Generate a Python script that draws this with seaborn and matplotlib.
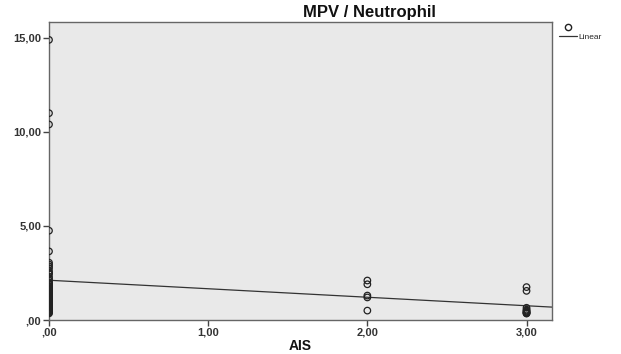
import numpy as np
import pandas as pd
import matplotlib
matplotlib.use('Agg')
import matplotlib.pyplot as plt
import seaborn as sns
from matplotlib.lines import Line2D
from matplotlib.ticker import FuncFormatter

# AIS groups and MPV / Neutrophil values
ais_0_values = [14.9, 11.0, 10.4, 4.75, 3.65,
                3.05, 2.95, 2.85, 2.75, 2.6, 2.5, 2.45, 2.3, 2.2, 2.1,
                2.0, 1.95, 1.9, 1.8, 1.8, 1.75, 1.7, 1.6, 1.6, 1.55,
                1.5, 1.45, 1.4, 1.35, 1.3, 1.25, 1.2, 1.2, 1.1, 1.05,
                1.0, 1.0, 0.9, 0.9, 0.85, 0.8, 0.8, 0.75, 0.7, 0.65,
                0.6, 0.55, 0.5, 0.45, 0.4, 0.35, 1.1, 0.7, 1.15, 0.95]
ais_2_values = [2.1, 1.9, 1.3, 1.2, 0.5]
ais_3_values = [1.75, 1.55, 0.65, 0.55, 0.5, 0.45, 0.4, 0.4, 0.35, 0.35]

ais = [0.0] * len(ais_0_values) + [2.0] * len(ais_2_values) + [3.0] * len(ais_3_values)
ratio = ais_0_values + ais_2_values + ais_3_values
df = pd.DataFrame({'AIS': ais, 'MPV_Neutrophil': ratio})

x_ticks = [0, 1, 2, 3]
y_ticks = [0, 5, 10, 15]


def spss_fmt(v, pos=None):
    # SPSS style: comma decimals, no leading zero
    s = f'{v:.2f}'.replace('.', ',')
    if s.startswith('0,'):
        s = s[1:]
    return s


sns.set_style('white')
plt.rcParams['font.family'] = ['Liberation Sans', 'DejaVu Sans']

fig = plt.figure(figsize=(6.21, 3.54), dpi=100)
ax = fig.add_axes([49 / 621, 1 - 320 / 354, (552 - 49) / 621, (320 - 22) / 354])
ax.set_facecolor('#e9e9e9')

ax.set_xlim(0, 3.16)
ax.set_ylim(0, 15.85)

sns.scatterplot(data=df, x='AIS', y='MPV_Neutrophil', ax=ax, marker='o', s=22,
                facecolors='none', edgecolor='#222222', linewidth=0.9, zorder=3)
sns.regplot(data=df, x='AIS', y='MPV_Neutrophil', ax=ax, scatter=False, ci=None,
            truncate=False, line_kws={'color': '#333333', 'lw': 0.9})

ax.set_xticks(x_ticks)
ax.set_yticks(y_ticks)
ax.xaxis.set_major_formatter(FuncFormatter(spss_fmt))
ax.yaxis.set_major_formatter(FuncFormatter(spss_fmt))
ax.tick_params(axis='both', direction='out', length=4, width=1, color='#444444',
               labelsize=8, labelcolor='#333333', pad=1.5)
for lab in ax.get_xticklabels() + ax.get_yticklabels():
    lab.set_fontweight('bold')
ax.tick_params(bottom=True, left=True)

for side in ['top', 'right', 'left', 'bottom']:
    ax.spines[side].set_color('#666666')
    ax.spines[side].set_linewidth(1.0)

ax.set_xlabel('')
ax.set_ylabel('')
fig.text(300 / 621, 1 - 346 / 354, 'AIS', ha='center', va='center',
         fontsize=10, fontweight='bold', color='#111111')
fig.text(369 / 621, 1 - 12 / 354, 'MPV / Neutrophil', ha='center', va='center',
         fontsize=12, fontweight='bold', color='#111111')

handles = [Line2D([], [], marker='o', linestyle='none', markerfacecolor='none',
                  markeredgecolor='#222222', markersize=4.5),
           Line2D([], [], color='#333333', lw=0.9)]
fig.legend(handles, ['', 'Linear'], loc='upper left', bbox_to_anchor=(553 / 621, 1 - 18 / 354),
           frameon=False, fontsize=6, handlelength=2.2, handletextpad=0.2,
           labelspacing=0.15, borderpad=0.2)

fig.savefig('out.png', dpi=100)
